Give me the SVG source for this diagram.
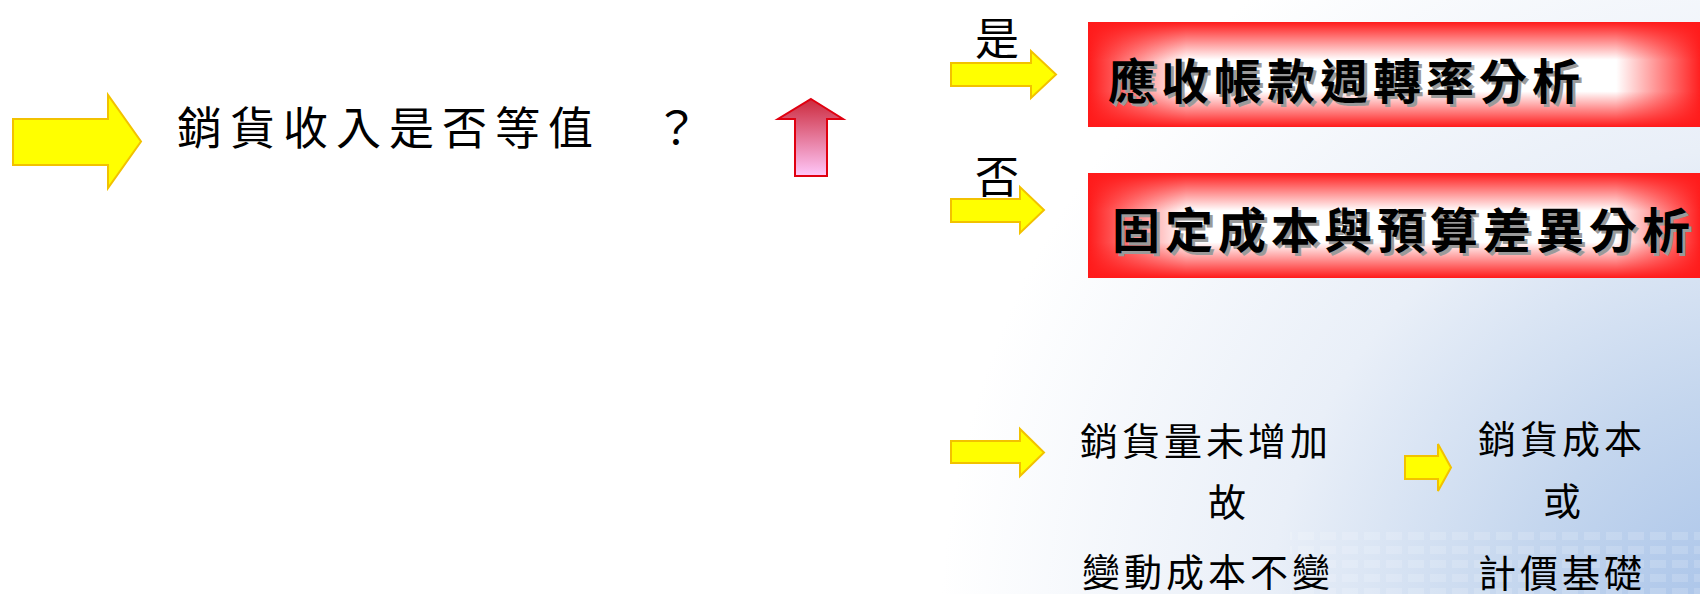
<svg xmlns="http://www.w3.org/2000/svg" width="1700" height="594" viewBox="0 0 1700 594">
  <defs>
    <style>
      .t { font-family: "Noto Sans CJK TC", "Noto Sans CJK SC", sans-serif; fill: #000; }
      .q { font-size: 45px; letter-spacing: 8px; }
      .lbl { font-size: 44px; }
      .box { font-size: 48px; letter-spacing: 5px; font-weight: 700; }
      .sh { fill: #9a9a9a; }
      .sm { font-size: 38px; letter-spacing: 4px; }
      .ya { fill: #ffff00; stroke: #f2c200; stroke-width: 2; stroke-linejoin: miter; }
    </style>
    <radialGradient id="bg" gradientUnits="userSpaceOnUse" cx="1760" cy="640" r="820">
      <stop offset="0" stop-color="#a4c0e8"/>
      <stop offset="0.3" stop-color="#c4d6ee"/>
      <stop offset="0.6" stop-color="#e9eff8"/>
      <stop offset="1" stop-color="#ffffff"/>
    </radialGradient>
    <linearGradient id="redH" x1="0" y1="0" x2="1" y2="0">
      <stop offset="0" stop-color="#ff1a1a" stop-opacity="1"/>
      <stop offset="0.16" stop-color="#ff1a1a" stop-opacity="0"/>
      <stop offset="0.86" stop-color="#ff1a1a" stop-opacity="0"/>
      <stop offset="1" stop-color="#ff1a1a" stop-opacity="1"/>
    </linearGradient>
    <linearGradient id="redV" x1="0" y1="0" x2="0" y2="1">
      <stop offset="0" stop-color="#ff1a1a" stop-opacity="1"/>
      <stop offset="0.36" stop-color="#ff1a1a" stop-opacity="0"/>
      <stop offset="0.66" stop-color="#ff1a1a" stop-opacity="0"/>
      <stop offset="1" stop-color="#ff1a1a" stop-opacity="1"/>
    </linearGradient>
    <linearGradient id="upG" x1="0" y1="0" x2="0" y2="1">
      <stop offset="0" stop-color="#cc2a3c"/>
      <stop offset="1" stop-color="#ffc8fa"/>
    </linearGradient>
    <pattern id="pix" patternUnits="userSpaceOnUse" width="22" height="14">
      <rect x="0" y="0" width="16" height="8" fill="#ffffff"/>
    </pattern>
  </defs>

  <rect x="0" y="0" width="1700" height="594" fill="#ffffff"/>
  <rect x="0" y="0" width="1700" height="594" fill="url(#bg)"/>
  <rect x="1290" y="530" width="410" height="64" fill="url(#pix)" opacity="0.15"/>

  <g id="question">
    <text class="t q" x="177" y="145">銷貨收入是否等值　？</text>
  </g>

  <g id="label-yes">
    <text class="t lbl" x="975" y="55">是</text>
  </g>
  <g id="label-no">
    <text class="t lbl" x="975" y="193">否</text>
  </g>

  <g id="box-receivable">
    <rect x="1088" y="22" width="614" height="105" fill="#ffffff"/>
    <rect x="1088" y="22" width="614" height="105" fill="url(#redH)"/>
    <rect x="1088" y="22" width="614" height="105" fill="url(#redV)"/>
    <text class="t box sh" x="1111" y="102">應收帳款週轉率分析</text>
    <text class="t box" x="1108" y="99">應收帳款週轉率分析</text>
  </g>

  <g id="box-fixedcost">
    <rect x="1088" y="173" width="614" height="105" fill="#ffffff"/>
    <rect x="1088" y="173" width="614" height="105" fill="url(#redH)"/>
    <rect x="1088" y="173" width="614" height="105" fill="url(#redV)"/>
    <text class="t box sh" x="1115" y="251">固定成本與預算差異分析</text>
    <text class="t box" x="1112" y="248">固定成本與預算差異分析</text>
  </g>

  <g id="text-volume">
    <text class="t sm" x="1080" y="455">銷貨量未增加</text>
    <text class="t sm" x="1208" y="516">故</text>
    <text class="t sm" x="1082" y="586">變動成本不變</text>
  </g>

  <g id="text-cost">
    <text class="t sm" x="1478" y="453">銷貨成本</text>
    <text class="t sm" x="1543" y="515">或</text>
    <text class="t sm" x="1478" y="587">計價基礎</text>
  </g>

  <g id="connectors">
    <path class="ya" d="M13,119 H108 V95 L141,141.5 L108,188 V165 H13 Z"/>
    <path d="M811,99 L843,119 H827 V176 H795 V119 H778 Z" fill="url(#upG)" stroke="#e00010" stroke-width="2"/>
    <path class="ya" d="M951,63 H1031 V51 L1056,74.5 L1031,98 V86 H951 Z"/>
    <path class="ya" d="M951,199 H1020 V187 L1044,210 L1020,233 V222 H951 Z"/>
    <path class="ya" d="M951,441 H1020 V429 L1044,452.5 L1020,476 V463 H951 Z"/>
    <path class="ya" d="M1405,456 H1438 V444 L1451,467.5 L1438,491 V479 H1405 Z"/>
  </g>
</svg>
